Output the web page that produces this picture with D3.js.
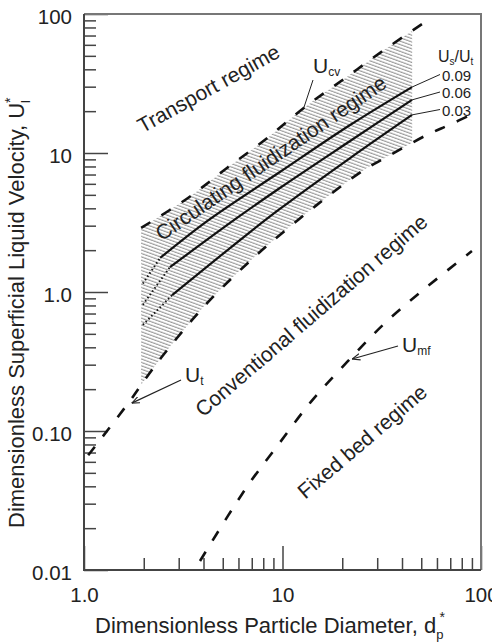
<!DOCTYPE html>
<html>
<head>
<meta charset="utf-8">
<script src="https://cdn.jsdelivr.net/npm/d3@7"></script>
<style>
  body { margin: 0; background: #fff; }
  svg text { font-family: Arial, "Liberation Sans", Helvetica, sans-serif; fill: #222; }
</style>
</head>
<body>
<div id="chart"></div>
<script>
// axis ticks
const xTicks = [1, 10, 100];
const xTickLabels = ['1.0', '10', '100'];
const yTicks = [0.01, 0.1, 1, 10, 100];
const yTickLabels = ['0.01', '0.10', '1.0', '10', '100'];

// curves as [d_p*, U_l*]
const terminalVel = [[1.05, 0.067], [1.7, 0.164], [2.05, 0.24], [2.44, 0.335], [2.94, 0.467], [3.54, 0.64],
  [4.26, 0.86], [5.5, 1.24], [6.86, 1.67], [8.45, 2.18], [14.8, 4.2], [25.7, 7.55], [32.8, 9.2],
  [53.5, 13.5], [69, 15.9], [91, 19.1]];
const transportVel = [[1.94, 2.89], [3.34, 4.75], [5.25, 7.8], [8.26, 12.6], [12.8, 21.1], [20.4, 34.1],
  [32.5, 55.1], [54.1, 90.5]];
const minFluidVel = [[3.84, 0.0116], [5.31, 0.0245], [6.94, 0.0437], [9.17, 0.0742], [13.9, 0.162],
  [21.4, 0.319], [33.2, 0.608], [53.5, 1.09], [90, 1.97]];
const hatchRange = [1.94, 45];

// Us/Ut lines
const ratioLabels = ['0.09', '0.06', '0.03'];
const ratio09 = [[1.98, 1.15], [2.42, 1.76], [4.17, 3.24], [9.7, 7.3], [21.9, 15.9], [44.9, 29.8]];
const ratio06 = [[1.98, 0.81], [2.71, 1.51], [5.9, 3.41], [9.7, 5.6], [21.9, 12.2], [44.9, 24.1]];
const ratio03 = [[1.98, 0.58], [2.78, 0.95], [6.86, 2.7], [9.7, 3.96], [21.9, 9.2], [44.9, 18.8]];
const ratioLines = [ratio09, ratio06, ratio03];
const dottedUntil = [2.42, 2.71, 2.78];

const regimeLabels = ['Transport regime', 'Circulating fluidization regime',
  'Conventional fluidization regime', 'Fixed bed regime'];

const width = 492, height = 642;
const mLeft = 84, mRight = 481, mTop = 14, mBottom = 570;

const svg = d3.select('#chart').append('svg')
  .attr('width', width).attr('height', height);

const x = d3.scaleLog().domain([1, 100]).range([mLeft, mRight]);
const y = d3.scaleLog().domain([0.01, 100]).range([mBottom, mTop]);

const line = d3.line()
  .x(d => x(d[0]))
  .y(d => y(d[1]))
  .curve(d3.curveCatmullRom.alpha(0.5));

// hatch pattern
const defs = svg.append('defs');
defs.append('pattern')
  .attr('id', 'hatch')
  .attr('patternUnits', 'userSpaceOnUse')
  .attr('width', 12).attr('height', 3.2)
  .attr('patternTransform', 'rotate(20)')
  .append('line')
  .attr('x1', 0).attr('y1', 1).attr('x2', 12).attr('y2', 1)
  .attr('stroke', '#8c8c8c').attr('stroke-width', 1);

defs.append('clipPath').attr('id', 'hatchClip')
  .append('rect')
  .attr('x', x(hatchRange[0])).attr('y', mTop)
  .attr('width', x(hatchRange[1]) - x(hatchRange[0]))
  .attr('height', mBottom - mTop);

defs.append('marker')
  .attr('id', 'arrow')
  .attr('viewBox', '0 0 10 10')
  .attr('refX', 10).attr('refY', 5)
  .attr('markerWidth', 8).attr('markerHeight', 8)
  .attr('markerUnits', 'userSpaceOnUse')
  .attr('orient', 'auto')
  .append('path')
  .attr('d', 'M0,1 L10,5 L0,9')
  .attr('fill', 'none').attr('stroke', '#222').attr('stroke-width', 1.3);

// hatched circulating region between U_cv and U_t
const upper = line(transportVel);
const lower = line(terminalVel.slice().reverse());
svg.append('path')
  .attr('d', upper + 'L' + lower.slice(1) + 'Z')
  .attr('fill', 'url(#hatch)')
  .attr('clip-path', 'url(#hatchClip)');

// axes
const xMinor = d3.range(2, 10).concat(d3.range(20, 100, 10));
const yMinor = [0.01, 0.1, 1, 10].flatMap(p => d3.range(2, 10).map(k => +(k * p).toPrecision(3)));

svg.append('g')
  .attr('transform', `translate(0,${mBottom})`)
  .call(d3.axisBottom(x).tickValues(xMinor).tickSize(-12).tickFormat(''))
  .call(g => g.select('.domain').remove());
const xAxis = svg.append('g')
  .attr('transform', `translate(0,${mBottom})`)
  .call(d3.axisBottom(x).tickValues(xTicks).tickSizeInner(-24).tickSizeOuter(0)
    .tickPadding(17).tickFormat((d, i) => xTickLabels[i]))
  .call(g => g.select('.domain').remove());

svg.append('g')
  .attr('transform', `translate(${mLeft},0)`)
  .call(d3.axisLeft(y).tickValues(yMinor).tickSize(-12).tickFormat(''))
  .call(g => g.select('.domain').remove());
const yAxis = svg.append('g')
  .attr('transform', `translate(${mLeft},0)`)
  .call(d3.axisLeft(y).tickValues(yTicks).tickSizeInner(-24).tickSizeOuter(0)
    .tickPadding(12).tickFormat((d, i) => yTickLabels[i]))
  .call(g => g.select('.domain').remove());

svg.selectAll('.tick line').attr('stroke', '#444').attr('stroke-width', 1.5);
svg.selectAll('.tick text').attr('font-size', 20.5).attr('fill', '#222')
  .style('font-family', 'Arial, "Liberation Sans", sans-serif');
yAxis.selectAll('.tick text').attr('dy', '0.48em');

// frame
svg.append('path')
  .attr('d', `M${mLeft},${mTop}H${mRight}V${mBottom}`)
  .attr('fill', 'none').attr('stroke', '#777').attr('stroke-width', 2);
svg.append('path')
  .attr('d', `M${mLeft},${mTop}V${mBottom}H${mRight}`)
  .attr('fill', 'none').attr('stroke', '#444').attr('stroke-width', 2);

// dashed boundary curves
[terminalVel, transportVel, minFluidVel].forEach(c => {
  svg.append('path')
    .attr('d', line(c))
    .attr('fill', 'none')
    .attr('stroke', '#111')
    .attr('stroke-width', 2.6)
    .attr('stroke-dasharray', '11,13');
});

// Us/Ut lines, dotted at the start
ratioLines.forEach((c, i) => {
  const dotted = c.filter(d => d[0] <= dottedUntil[i]);
  const solid = c.filter(d => d[0] >= dottedUntil[i]);
  svg.append('path')
    .attr('d', line(dotted))
    .attr('fill', 'none').attr('stroke', '#111')
    .attr('stroke-width', 2).attr('stroke-dasharray', '1.5,2.5');
  svg.append('path')
    .attr('d', line(solid))
    .attr('fill', 'none').attr('stroke', '#111')
    .attr('stroke-width', 2.2);
});

// legend for Us/Ut
const legX = 442;
const legY = [80.5, 98, 115.5];
const legend = svg.append('text').attr('x', 438).attr('y', 62).attr('font-size', 16);
legend.append('tspan').text('U');
legend.append('tspan').attr('font-size', 10).attr('dy', 3).text('s');
legend.append('tspan').attr('dy', -3).text('/U');
legend.append('tspan').attr('font-size', 10).attr('dy', 3).text('t');

ratioLines.forEach((c, i) => {
  const end = c[c.length - 1];
  svg.append('line')
    .attr('x1', x(end[0])).attr('y1', y(end[1]))
    .attr('x2', legX - 2).attr('y2', legY[i] - 6)
    .attr('stroke', '#222').attr('stroke-width', 1);
  svg.append('text')
    .attr('x', legX).attr('y', legY[i])
    .attr('font-size', 15)
    .text(ratioLabels[i]);
});

// curve labels
function subLabel(px, py, main, sub) {
  const t = svg.append('text').attr('x', px).attr('y', py).attr('font-size', 21);
  t.append('tspan').text(main);
  t.append('tspan').attr('font-size', 12).attr('dy', 3).text(sub);
}
subLabel(313, 73, 'U', 'cv');
subLabel(185, 382, 'U', 't');
subLabel(402, 352, 'U', 'mf');

// leader to U_cv
svg.append('line')
  .attr('x1', 313).attr('y1', 80)
  .attr('x2', x(transportVel[4][0])).attr('y2', y(transportVel[4][1]))
  .attr('stroke', '#222').attr('stroke-width', 1);
// arrows to U_t and U_mf
svg.append('line')
  .attr('x1', 181).attr('y1', 380)
  .attr('x2', x(terminalVel[1][0]) + 2).attr('y2', y(terminalVel[1][1]) + 2)
  .attr('stroke', '#222').attr('stroke-width', 1.2)
  .attr('marker-end', 'url(#arrow)');
svg.append('line')
  .attr('x1', 398).attr('y1', 346)
  .attr('x2', x(minFluidVel[5][0]) + 4).attr('y2', y(minFluidVel[5][1]) - 2)
  .attr('stroke', '#222').attr('stroke-width', 1.2)
  .attr('marker-end', 'url(#arrow)');

// regime labels
const regimePos = [[212, 95, -29], [275, 164, -34.4], [316, 321, -40.6], [367, 447, -40.5]];
regimeLabels.forEach((txt, i) => {
  const [px, py, a] = regimePos[i];
  svg.append('text')
    .attr('transform', `translate(${px},${py}) rotate(${a})`)
    .attr('text-anchor', 'middle')
    .attr('font-size', 21)
    .text(txt);
});

// axis titles
const xt = svg.append('text').attr('x', 95).attr('y', 633).attr('font-size', 22);
xt.append('tspan').text('Dimensionless Particle Diameter, d');
xt.append('tspan').attr('font-size', 13).attr('dy', 6).text('p');
xt.append('tspan').attr('font-size', 14).attr('dy', -17).attr('dx', -4).text('*');

const yt = svg.append('text')
  .attr('transform', 'translate(24,528) rotate(-90)')
  .attr('font-size', 22);
yt.append('tspan').text('Dimensionless Superficial Liquid Velocity, U');
yt.append('tspan').attr('font-size', 13).attr('dy', 6).text('l');
yt.append('tspan').attr('font-size', 14).attr('dy', -15).attr('dx', -3).text('*');
</script>
</body>
</html>
